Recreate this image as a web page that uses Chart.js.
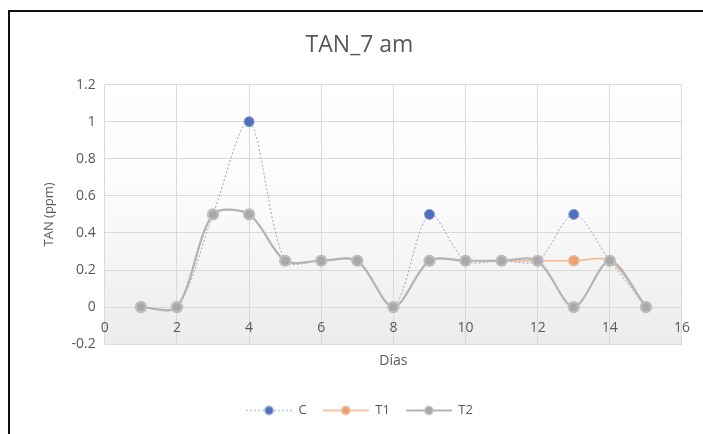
<!DOCTYPE html>
<html>
<head>
<meta charset="utf-8">
<script src="https://cdn.jsdelivr.net/npm/chart.js@4.4.1/dist/chart.umd.min.js"></script>
<style>
    body { margin: 0; background: #fff; }
    #wrap { position: relative; width: 703px; height: 434px; }
    #frame { position: absolute; left: 8px; top: 10px; right: 0; bottom: 0;
             border-top: 2px solid #111; border-left: 2px solid #111; pointer-events: none; }
</style>
</head>
<body>
<div id="wrap">
    <canvas id="chart" width="703" height="434"></canvas>
    <div id="frame"></div>
</div>
<script>
const days = [1, 2, 3, 4, 5, 6, 7, 8, 9, 10, 11, 12, 13, 14, 15];
const seriesC  = [0, 0, 0.5, 1,   0.25, 0.25, 0.25, 0, 0.5,  0.25, 0.25, 0.25, 0.5,  0.25, 0];
const seriesT1 = [0, 0, 0.5, 0.5, 0.25, 0.25, 0.25, 0, 0.25, 0.25, 0.25, 0.25, 0.25, 0.25, 0];
const seriesT2 = [0, 0, 0.5, 0.5, 0.25, 0.25, 0.25, 0, 0.25, 0.25, 0.25, 0.25, 0,    0.25, 0];
const xTicks = [0, 2, 4, 6, 8, 10, 12, 14, 16];
const yTicks = [-0.2, 0, 0.2, 0.4, 0.6, 0.8, 1, 1.2];

const TEXT = '#595959';
const GRID = '#d9d9d9';
const FONT = 'Open Sans';

const styles = [
    { line: '#8fa6d8', width: 1,   dash: [2, 2], fill: '#4f6fbf', edge: '#8a9bc8' },
    { line: '#f2b48a', width: 1.5, dash: [],     fill: '#f0a070', edge: '#e9b99a' },
    { line: '#b4b4b4', width: 2.2, dash: [],     fill: '#a8a8a8', edge: '#bdbdbd' }
];

function points(values) {
    return days.map((d, i) => ({ x: d, y: values[i] }));
}

// small "line + marker" legend icons like the spreadsheet legend
function legendIcon(s) {
    const c = document.createElement('canvas');
    c.width = 46;
    c.height = 12;
    const ctx = c.getContext('2d');
    ctx.strokeStyle = s.line;
    ctx.lineWidth = s.width;
    ctx.setLineDash(s.dash);
    ctx.beginPath();
    ctx.moveTo(0, 6);
    ctx.lineTo(46, 6);
    ctx.stroke();
    ctx.setLineDash([]);
    ctx.beginPath();
    ctx.arc(23, 6, 4, 0, Math.PI * 2);
    ctx.fillStyle = s.fill;
    ctx.fill();
    ctx.lineWidth = 1.5;
    ctx.strokeStyle = s.edge;
    ctx.stroke();
    return c;
}
const icons = styles.map(legendIcon);

// plot area shading, white on top fading to light grey
const plotShade = {
    id: 'plotShade',
    beforeDraw(chart) {
        const { ctx, chartArea: a } = chart;
        const g = ctx.createLinearGradient(0, a.top, 0, a.bottom);
        g.addColorStop(0, '#ffffff');
        g.addColorStop(0.45, '#fbfbfb');
        g.addColorStop(1, '#ececec');
        ctx.save();
        ctx.fillStyle = g;
        ctx.fillRect(a.left, a.top, a.right - a.left, a.bottom - a.top);
        ctx.restore();
    }
};

function makeDataset(label, values, s, order) {
    return {
        label: label,
        data: points(values),
        borderColor: s.line,
        borderWidth: s.width,
        borderDash: s.dash,
        pointBackgroundColor: s.fill,
        pointBorderColor: s.edge,
        order: order
    };
}

new Chart(document.getElementById('chart'), {
    type: 'line',
    data: {
        datasets: [
            makeDataset('C', seriesC, styles[0], 2),
            makeDataset('T1', seriesT1, styles[1], 1),
            makeDataset('T2', seriesT2, styles[2], 0)
        ]
    },
    options: {
        responsive: false,
        animation: false,
        layout: { padding: { left: 37, right: 21, top: 32, bottom: 7 } },
        elements: {
            line: { tension: 0.3, fill: false },
            point: { radius: 5, borderWidth: 2, pointStyle: 'circle' }
        },
        scales: {
            x: {
                type: 'linear',
                position: { y: 0 },
                min: xTicks[0],
                max: xTicks[xTicks.length - 1],
                afterBuildTicks: (s) => { s.ticks = xTicks.map(v => ({ value: v })); },
                grid: { color: GRID, drawTicks: false },
                border: { display: false },
                ticks: { color: TEXT, font: { family: FONT, size: 14 }, padding: 13 }
            },
            x2: {
                type: 'linear',
                position: 'bottom',
                min: xTicks[0],
                max: xTicks[xTicks.length - 1],
                grid: { display: false },
                border: { display: false },
                ticks: { display: false },
                title: { display: true, text: 'Días', color: TEXT, font: { family: FONT, size: 14 }, padding: { top: 0, bottom: 19 } }
            },
            y: {
                min: yTicks[0],
                max: yTicks[yTicks.length - 1],
                afterBuildTicks: (s) => { s.ticks = yTicks.map(v => ({ value: v })); },
                grid: { color: GRID, drawTicks: false },
                border: { display: false },
                ticks: {
                    color: TEXT,
                    font: { family: FONT, size: 14 },
                    padding: 9,
                    callback: (v) => String(+v.toFixed(1))
                },
                title: { display: true, text: 'TAN (ppm)', color: TEXT, font: { family: FONT, size: 13 }, padding: { top: 4, bottom: 6 } }
            }
        },
        plugins: {
            title: {
                display: true,
                text: 'TAN_7 am',
                color: TEXT,
                font: { family: FONT, size: 23, weight: 'normal' },
                padding: { top: 0, bottom: 25 }
            },
            legend: {
                position: 'bottom',
                labels: {
                    color: TEXT,
                    font: { family: FONT, size: 13 },
                    usePointStyle: true,
                    pointStyleWidth: 46,
                    boxHeight: 12,
                    padding: 16,
                    sort: (a, b) => a.datasetIndex - b.datasetIndex,
                    generateLabels: (chart) =>
                        Chart.defaults.plugins.legend.labels.generateLabels(chart).map(item => {
                            item.pointStyle = icons[item.datasetIndex];
                            return item;
                        })
                }
            },
            tooltip: { enabled: false }
        }
    },
    plugins: [plotShade]
});
</script>
</body>
</html>
